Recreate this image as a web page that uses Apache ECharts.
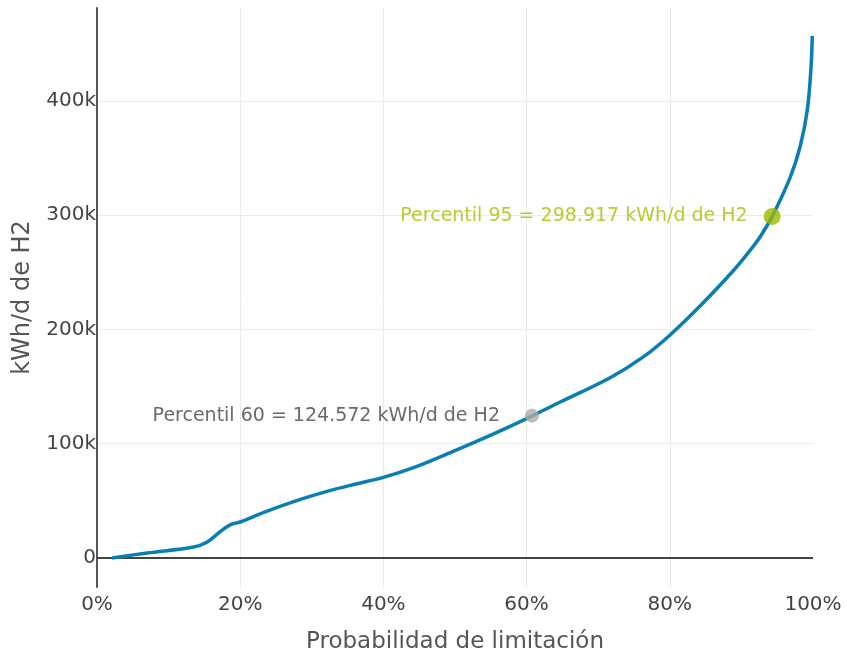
<!DOCTYPE html>
<html>
<head>
<meta charset="utf-8">
<script src="https://cdn.jsdelivr.net/npm/echarts@6/dist/echarts.min.js"></script>
<style>
html, body { margin: 0; padding: 0; background: #fff; }
#chart { width: 847px; height: 652px; }
</style>
</head>
<body>
<div id="chart"></div>
<script>
// curve: probability (%) vs kWh/d
var prob = [2.1, 7, 13.5, 15.4, 17, 18.6, 20, 23.3, 28, 32.5, 36, 40, 44.2, 50, 55, 60, 64.7, 71.6, 76.3, 80, 84.6, 88.8, 90.8, 92.6, 94.3, 96.8, 98.2, 99.2, 99.7, 99.9];
var energy = [0, 4400, 9600, 14000, 22000, 29000, 31500, 40000, 50500, 59000, 64500, 70500, 79000, 94000, 107500, 122000, 136500, 157500, 176000, 195000, 223000, 251000, 266000, 281000, 299000, 333000, 360000, 392000, 427000, 457000];

var p60 = [60.75, 124572];
var p95 = [94.3, 298917];
var p60Label = 'Percentil 60 = 124.572 kWh/d de H2';
var p95Label = 'Percentil 95 = 298.917 kWh/d de H2';

var yTicks = [0, 100000, 200000, 300000, 400000];

var font = 'DejaVu Sans';
var chart = echarts.init(document.getElementById('chart'));

var option = {
    animation: false,
    grid: { left: 97, right: 34, top: 8, bottom: 65, outerBoundsMode: 'none', containLabel: false },
    xAxis: {
        type: 'value',
        min: 0,
        max: 100,
        interval: 20,
        name: 'Probabilidad de limitación',
        nameLocation: 'middle',
        nameGap: 44,
        nameTextStyle: { fontFamily: font, fontSize: 23, color: '#555' },
        axisLine: { show: false },
        axisTick: { show: false },
        axisLabel: {
            formatter: '{value}%',
            fontFamily: font, fontSize: 20, color: '#444', margin: 8
        },
        splitLine: { show: true, showMinLine: false, showMaxLine: false, lineStyle: { color: '#ebebeb', width: 1 } }
    },
    yAxis: {
        type: 'value',
        min: -25400,
        max: 481400,
        name: 'kWh/d de H2',
        nameLocation: 'middle',
        nameGap: 62,
        nameTextStyle: { fontFamily: font, fontSize: 24, color: '#555' },
        axisLine: { show: true, lineStyle: { color: '#555', width: 2 } },
        axisTick: { show: false, customValues: yTicks },
        axisLabel: {
            customValues: yTicks,
            formatter: function (v) { return v === 0 ? '0' : (v / 1000) + 'k'; },
            fontFamily: font, fontSize: 20, color: '#444', margin: 1
        },
        splitLine: { show: true, lineStyle: { color: '#ebebeb', width: 1 } }
    },
    series: [
        {
            type: 'line',
            data: prob.map(function (p, i) { return [p, energy[i]]; }),
            smooth: 0.35,
            symbol: 'none',
            lineStyle: { color: '#0a7db3', width: 3.5 },
            z: 3,
            markLine: {
                silent: true,
                symbol: 'none',
                label: { show: false },
                lineStyle: { color: '#444', width: 2, type: 'solid' },
                data: [{ yAxis: 0 }],
                z: 2
            }
        },
        {
            type: 'scatter',
            data: [p60],
            symbolSize: 14,
            itemStyle: { color: '#aaaaaa' },
            z: 4,
            label: {
                show: true,
                position: 'left',
                distance: 25,
                formatter: p60Label,
                fontFamily: font, fontSize: 19, color: '#444'
            }
        },
        {
            type: 'scatter',
            data: [p95],
            symbolSize: 17,
            itemStyle: { color: '#9bb800' },
            z: 4,
            label: {
                show: true,
                position: 'left',
                distance: 16,
                formatter: p95Label,
                fontFamily: font, fontSize: 19, color: '#a3c000'
            }
        }
    ]
};

chart.setOption(option);
</script>
</body>
</html>
